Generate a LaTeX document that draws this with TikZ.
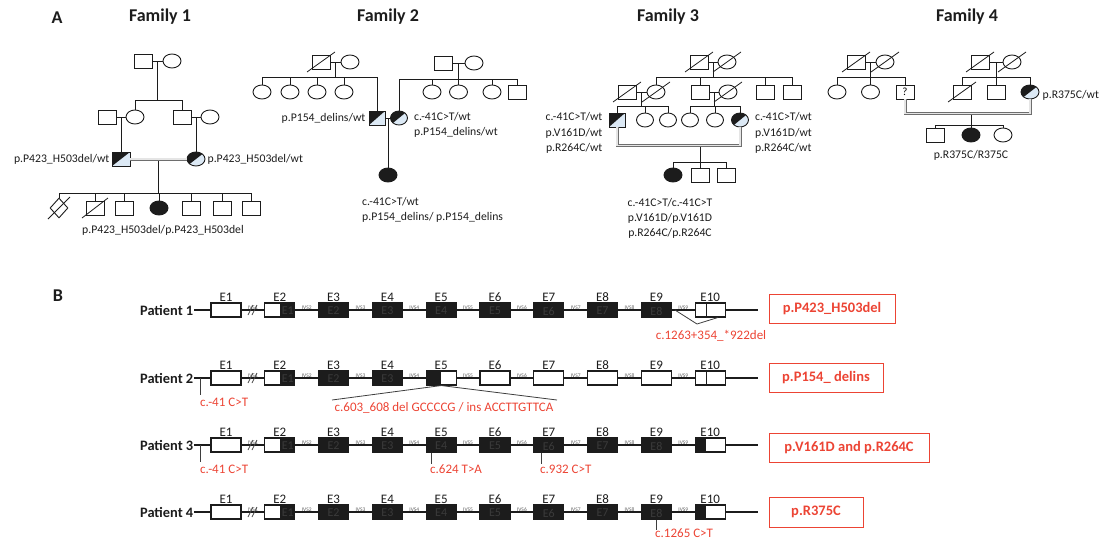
\documentclass[tikz,border=0pt]{standalone}
\usepackage{fontspec}
\setmainfont{Carlito}
\usetikzlibrary{shapes.geometric,calc}
\definecolor{ink}{HTML}{1C1C1C}
\definecolor{carblue}{HTML}{DCE9F5}
\definecolor{mutred}{HTML}{EC4434}
\definecolor{dbl}{HTML}{6E6E6E}
\definecolor{innertxt}{HTML}{3A3A3A}

% one gene row: id, y, exon kinds, fully black exons carrying an inner label
\newcommand\generow[4]{%
  \node[ptlab, anchor=east] (p#1) at (194,#2) {Patient #1};
  \coordinate (p#1end) at (758,#2);
  \draw[gline] (p#1.east) -- (p#1end);
  \foreach \k [count=\i] in {#3} {
    \pgfmathsetmacro\cx{226+(\i-1)*53.8}
    \node[ex\k] (p#1e\i) at (\cx,#2) {};
    \node[exlab, anchor=south] at (p#1e\i.north) {E\i};
  }
  \foreach \i in {1,...,9} {
    \pgfmathsetmacro\ix{252.9+(\i-1)*53.8}
    \node[ivs, anchor=base] at (\ix,#2-1) {IVS\i};
  }
  \node[innerlab] at ($(p#1e2.center)+(8,1)$) {E1};
  \foreach \i in {#4} {
    \pgfmathtruncatemacro\j{\i-1}
    \node[innerlab] at ($(p#1e\i.center)+(0,1)$) {E\j};
  }
  \draw[brk] (248,#2+5) -- (253,#2-5);
  \draw[brk] (252,#2+5) -- (257,#2-5);
}

\begin{document}
\begin{tikzpicture}[x=1pt,y=-1pt,
  ped/.style={draw=ink, line width=0.9pt, inner sep=0pt, minimum width=18pt, minimum height=14pt, fill=white},
  male/.style={ped, rectangle},
  female/.style={ped, ellipse},
  aff/.style={fill=ink},
  car/.style={fill=carblue, path picture={\fill[ink] (path picture bounding box.south west) -- (path picture bounding box.north west) -- (path picture bounding box.north east) -- cycle;}},
  link/.style={draw=ink, line width=0.8pt},
  cons/.style={draw=dbl, double=gray!20, double distance=1.6pt, line width=0.7pt},
  slashln/.style={draw=ink, line width=0.8pt},
  plab/.style={font=\fontsize{11.7}{13}\selectfont, text=ink, inner sep=0pt},
  famtitle/.style={font=\fontsize{18}{20}\selectfont\bfseries, text=ink},
  ptlab/.style={font=\fontsize{14.4}{16}\selectfont\bfseries, text=ink, inner sep=0.5pt},
  gline/.style={draw=ink, line width=1.2pt},
  exon/.style={draw=ink, line width=1.1pt, minimum width=30pt, minimum height=14pt, inner sep=0pt, fill=white},
  exw/.style={exon},
  exb/.style={exon, fill=ink},
  exh/.style={exon, path picture={\fill[ink] ($(path picture bounding box.north west)!0.5!(path picture bounding box.north east)$) rectangle (path picture bounding box.south east);}},
  exf/.style={exon, path picture={\fill[ink] (path picture bounding box.north west) rectangle ($(path picture bounding box.south west)!0.5!(path picture bounding box.south east)$);}},
  exs/.style={exon, path picture={\draw[ink, line width=1.1pt] ($(path picture bounding box.north west)+(11,0)$) -- ($(path picture bounding box.south west)+(11,0)$);}},
  exk/.style={exon, path picture={\fill[ink] (path picture bounding box.north west) rectangle ($(path picture bounding box.south west)+(11,0)$);}},
  exlab/.style={font=\fontsize{13}{14}\selectfont, text=ink, inner sep=1pt},
  innerlab/.style={font=\fontsize{12}{13}\selectfont, text=innertxt, inner sep=0pt},
  ivs/.style={font=\fontsize{5.5}{6}\selectfont, text=ink!70, inner sep=0pt},
  brk/.style={draw=ink!80, line width=0.7pt},
  redbox/.style={draw=mutred, line width=1pt, text=mutred, font=\fontsize{14.5}{16}\selectfont\bfseries, inner sep=0pt, minimum height=29pt},
  mutlab/.style={font=\fontsize{13}{14}\selectfont, text=mutred, inner sep=0pt},
  tick/.style={draw=ink!85, line width=0.8pt},
]
\useasboundingbox (0,0) rectangle (1106,541);

% ---------------- panel A headings
\node[famtitle] (hA) at (57,18) {A};
\node[famtitle] (t1) at (160,17) {Family 1};
\node[famtitle] (t2) at (388,17) {Family 2};
\node[famtitle] (t3) at (668,17) {Family 3};
\node[famtitle] (t4) at (967,17) {Family 4};

% ---------------- Family 1
\node[male] (f1gm) at (143,61) {};
\node[female] (f1gf) at (172,61) {};
\node[male] (f1s1) at (107,117) {};
\node[female] (f1a1) at (135,117) {};
\node[male] (f1a2) at (182,117) {};
\node[female] (f1s2) at (210,117) {};
\node[male,car] (f1fa) at (121,159) {};
\node[female,car] (f1mo) at (196,159) {};
\node[ped, diamond, minimum width=18pt, minimum height=20pt] (f1k1) at (59,208) {};
\node[male] (f1k2) at (95,208) {};
\node[male] (f1k3) at (124,208) {};
\node[female,aff] (f1k4) at (159,208) {};
\node[male] (f1k5) at (191,208) {};
\node[male] (f1k6) at (222,208) {};
\node[male] (f1k7) at (251,208) {};

\draw[link] (f1gm) -- (f1gf);
\draw[link] ($(f1gm)!0.5!(f1gf)$) -- ++(0,39) coordinate (f1b1);
\foreach \c in {f1a1,f1a2} \draw[link] (\c.north) |- (f1b1);
\draw[link] (f1s1) -- (f1a1);
\draw[link] (f1a2) -- (f1s2);
\draw[link] ($(f1s1)!0.5!(f1a1)$) -- (f1fa.north);
\draw[link] ($(f1a2)!0.5!(f1s2)$) -- (f1mo.north);
\draw[link] ($(f1fa)!0.5!(f1mo)$) -- ++(0,34) coordinate (f1b2);
\foreach \c in {f1k1,f1k2,f1k3,f1k4,f1k5,f1k6,f1k7} \draw[link] (\c.north) |- (f1b2);
\draw[cons] (f1fa) -- (f1mo);
\draw[slashln] ($(f1k1)+(-11,11)$) -- ($(f1k1)+(11,-11)$);
\draw[slashln] ($(f1k2)+(-13,10)$) -- ($(f1k2)+(13,-10)$);

\node[plab, anchor=east] (l1a) at ($(f1fa.west)+(-2,0)$) {p.P423\_H503del/wt};
\node[plab, anchor=west] (l1b) at ($(f1mo.east)+(2,0)$) {p.P423\_H503del/wt};
\node[plab] (l1c) at (163,230) {p.P423\_H503del/p.P423\_H503del};

% ---------------- Family 2
\node[male] (f2gm) at (321,62) {};
\node[female] (f2gf) at (350,62) {};
\node[female] (f2a1) at (262,92) {};
\node[female] (f2a2) at (290,92) {};
\node[female] (f2a3) at (317,92) {};
\node[female] (f2a4) at (344,92) {};
\node[male,car,minimum width=16pt] (f2fa) at (377,118) {};
\node[male] (f2rm) at (443,63) {};
\node[female] (f2rf) at (474,63) {};
\node[female,car,minimum width=17pt] (f2mo) at (399,118) {};
\node[female] (f2c1) at (432,92) {};
\node[female] (f2c2) at (458.5,92) {};
\node[female] (f2c3) at (492,92) {};
\node[male] (f2c4) at (517,92) {};
\node[female,aff] (f2k) at (388,175) {};

\draw[link] (f2gm) -- (f2gf);
\draw[link] ($(f2gm)!0.5!(f2gf)$) -- ++(0,15) coordinate (f2b1);
\foreach \c in {f2a1,f2a2,f2a3,f2a4,f2fa} \draw[link] (\c.north) |- (f2b1);
\draw[link] (f2rm) -- (f2rf);
\draw[link] ($(f2rm)!0.5!(f2rf)$) -- ++(0,16) coordinate (f2b2);
\foreach \c in {f2mo,f2c1,f2c2,f2c3,f2c4} \draw[link] (\c.north) |- (f2b2);
\draw[link] (f2fa) -- (f2mo);
\draw[link] ($(f2fa)!0.5!(f2mo)$) -- (f2k.north);
\draw[slashln] ($(f2gm)+(-14,10)$) -- ($(f2gm)+(14,-10)$);

\node[plab, anchor=east] (l2a) at ($(f2fa.west)+(-3,0)$) {p.P154\_delins/wt};
\node[plab, anchor=west] (l2b) at ($(f2mo.east)+(6,-1)$) {c.-41C>T/wt};
\node[plab, anchor=west] (l2c) at ($(f2mo.east)+(6,14)$) {p.P154\_delins/wt};
\node[plab, anchor=west] (l2d) at (362,202) {c.-41C>T/wt};
\node[plab, anchor=west] (l2e) at (362,217) {p.P154\_delins/ p.P154\_delins};

% ---------------- Family 3
\node[male] (f3gm) at (699,62) {};
\node[female] (f3gf) at (727,62) {};
\node[male] (f3h1) at (627,92) {};
\node[female] (f3a1) at (656,92) {};
\node[male] (f3a2) at (700,92) {};
\node[female] (f3h2) at (728,92) {};
\node[male] (f3a3) at (765,92) {};
\node[male] (f3a4) at (792,92) {};
\node[male,car,minimum width=16pt] (f3fa) at (617,120) {};
\node[female,minimum width=17pt] (f3c1) at (645,120) {};
\node[female,minimum width=17pt] (f3c2) at (668,120) {};
\node[female,minimum width=17pt] (f3c3) at (690,120) {};
\node[female,minimum width=17pt] (f3c4) at (715,120) {};
\node[female,car,minimum width=17pt] (f3mo) at (740,120) {};
\node[female,aff] (f3k1) at (673,175) {};
\node[male] (f3k2) at (700,175) {};
\node[male] (f3k3) at (726,175) {};

\draw[link] (f3gm) -- (f3gf);
\draw[link] ($(f3gm)!0.5!(f3gf)$) -- ++(0,15) coordinate (f3b1);
\foreach \c in {f3a1,f3a2,f3a3,f3a4} \draw[link] (\c.north) |- (f3b1);
\draw[link] (f3h1) -- (f3a1);
\draw[link] (f3a2) -- (f3h2);
\draw[link] ($(f3h1)!0.5!(f3a1)$) -- ++(0,14) coordinate (f3b2);
\foreach \c in {f3fa,f3c1,f3c2} \draw[link] (\c.north) |- (f3b2);
\draw[link] ($(f3a2)!0.5!(f3h2)$) -- ++(0,14) coordinate (f3b3);
\foreach \c in {f3c3,f3c4,f3mo} \draw[link] (\c.north) |- (f3b3);
\path (f3fa.south) -- ++(0,18) coordinate (f3l);
\draw[link] (f3k2 |- f3l) -- ++(0,17) coordinate (f3b4);
\foreach \c in {f3k1,f3k2,f3k3} \draw[link] (\c.north) |- (f3b4);
\draw[cons] (f3fa.south) -- (f3l) -| (f3mo.south);
\foreach \c in {f3gm,f3gf,f3h1,f3a1,f3h2}
  \draw[slashln] ($(\c)+(-14,10)$) -- ($(\c)+(14,-10)$);

\node[plab, anchor=east] (l3a) at ($(f3fa.west)+(-6,-3)$) {c.-41C>T/wt};
\node[plab, anchor=east] (l3b) at ($(f3fa.west)+(-6,13)$) {p.V161D/wt};
\node[plab, anchor=east] (l3c) at ($(f3fa.west)+(-6,28)$) {p.R264C/wt};
\node[plab, anchor=west] (l3d) at ($(f3mo.east)+(6,-3)$) {c.-41C>T/wt};
\node[plab, anchor=west] (l3e) at ($(f3mo.east)+(6,13)$) {p.V161D/wt};
\node[plab, anchor=west] (l3f) at ($(f3mo.east)+(6,28)$) {p.R264C/wt};
\node[plab] (l3g) at (670,203) {c.-41C>T/c.-41C>T};
\node[plab] (l3h) at (670,218) {p.V161D/p.V161D};
\node[plab] (l3i) at (670,233) {p.R264C/p.R264C};

% ---------------- Family 4
\node[male] (f4lm) at (856,62) {};
\node[female] (f4lf) at (885,62) {};
\node[female] (f4a1) at (837,92) {};
\node[female] (f4a2) at (870.5,92) {};
\node[male, font=\fontsize{11}{12}\selectfont] (f4fa) at (905,92) {?};
\node[male] (f4rm) at (980,62) {};
\node[female] (f4rf) at (1012,62) {};
\node[male] (f4a3) at (962,92) {};
\node[male] (f4a4) at (996,92) {};
\node[female,car] (f4mo) at (1030,92) {};
\node[male] (f4k1) at (935,135) {};
\node[female,aff] (f4k2) at (971,135) {};
\node[female] (f4k3) at (1003,135) {};

\draw[link] (f4lm) -- (f4lf);
\draw[link] ($(f4lm)!0.5!(f4lf)$) -- ++(0,15) coordinate (f4b1);
\foreach \c in {f4a1,f4a2,f4fa} \draw[link] (\c.north) |- (f4b1);
\draw[link] (f4rm) -- (f4rf);
\draw[link] ($(f4rm)!0.5!(f4rf)$) -- ++(0,15) coordinate (f4b2);
\foreach \c in {f4a3,f4a4,f4mo} \draw[link] (\c.north) |- (f4b2);
\path (f4fa.south) -- ++(0,14) coordinate (f4l);
\draw[link] (f4k2 |- f4l) -- ++(0,12) coordinate (f4b3);
\foreach \c in {f4k1,f4k2,f4k3} \draw[link] (\c.north) |- (f4b3);
\draw[cons] (f4fa.south) -- (f4l) -| (f4mo.south);
\foreach \c in {f4lm,f4lf,f4rm,f4rf,f4a3}
  \draw[slashln] ($(\c)+(-14,10)$) -- ($(\c)+(14,-10)$);

\node[plab, anchor=west] (l4a) at ($(f4mo.east)+(3,3)$) {p.R375C/wt};
\node[plab] (l4b) at (971,155) {p.R375C/R375C};

% ---------------- panel B
\node[famtitle] (hB) at (58,296) {B};

\generow{1}{310}{w,h,b,b,b,b,b,b,b,s}{3,...,9}
\generow{2}{378}{w,h,b,b,f,w,w,w,w,s}{3,4}
\generow{3}{445}{w,h,b,b,b,b,b,b,b,k}{3,...,9}
\generow{4}{512}{w,h,b,b,b,b,b,b,b,k}{3,...,9}

\node[redbox, minimum width=126pt] (r1) at (832,308.5) {p.P423\_H503del};
\node[redbox, minimum width=114pt] (r2) at (826,377.5) {p.P154\_ delins};
\node[redbox, minimum width=160pt] (r3) at (849,447.5) {p.V161D and p.R264C};
\node[redbox, minimum width=94pt, minimum height=30pt] (r4) at (816,512) {p.R375C};

% patient 1: deletion spanning IVS9 into E10
\coordinate (m1a) at ($(p1e9.east)+(3,0)$);
\coordinate (m1b) at (697,324);
\draw[tick] (m1a) -- (m1b) -- ($(p1e10.south east)+(-8,0)$);
\node[mutlab] (m1t) at (711,336) {c.1263+354\_*922del};

% patient 2
\coordinate (m2a) at ($(p2.east)+(6,0)$);
\draw[tick] (m2a) -- ++(0,17);
\node[mutlab, anchor=west] (m2t) at (200,402) {c.-41 C>T};
\coordinate (m2b) at (p2e5.south);
\draw[tick] (332,400) -- (m2b) -- (557,400);
\node[mutlab] (m2u) at (444,408) {c.603\_608 del GCCCCG / ins ACCTTGTTCA};

% patient 3
\coordinate (m3a) at ($(p3.east)+(6,0)$);
\draw[tick] (m3a) -- ++(0,17);
\node[mutlab, anchor=west] (m3t) at (200,469) {c.-41 C>T};
\draw[tick] ($(p3e5.south west)+(6,0)$) -- ++(0,11);
\node[mutlab, anchor=west] (m3u) at (430,469) {c.624 T>A};
\draw[tick] ($(p3e7.south west)+(8,0)$) -- ++(0,11);
\node[mutlab, anchor=west] (m3v) at (540,469) {c.932 C>T};

% patient 4
\draw[tick] (p4e9.south) -- ++(0,10);
\node[mutlab, anchor=west] (m4t) at (655,533) {c.1265 C>T};

\end{tikzpicture}
\end{document}
